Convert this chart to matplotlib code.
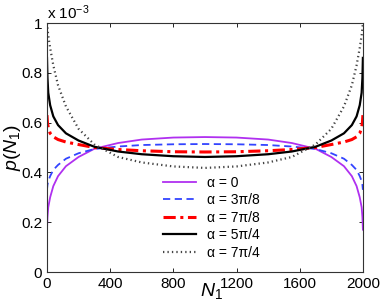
import matplotlib
matplotlib.use("Agg")
import matplotlib.pyplot as plt

plt.rcParams['font.family'] = ['Liberation Sans', 'DejaVu Sans']
plt.rcParams['mathtext.fontset'] = 'custom'
plt.rcParams['mathtext.it'] = 'Liberation Sans:italic'
plt.rcParams['mathtext.rm'] = 'Liberation Sans'

# N1 sample points and p(N1) (units of 1e-3)
n1 = [0, 3, 8, 20, 40, 70, 120, 200, 300, 450, 600, 800, 1000,
      1200, 1400, 1550, 1700, 1800, 1880, 1930, 1960, 1980, 1992, 1997, 2000]

p_a0 = [0.17, 0.22, 0.26, 0.30, 0.345, 0.385, 0.425, 0.462, 0.495, 0.518, 0.532, 0.540, 0.542,
        0.540, 0.532, 0.518, 0.495, 0.462, 0.425, 0.385, 0.345, 0.30, 0.26, 0.22, 0.17]
p_3pi8 = [0.33, 0.35, 0.365, 0.385, 0.41, 0.43, 0.455, 0.477, 0.494, 0.504, 0.510, 0.513, 0.514,
          0.513, 0.510, 0.504, 0.494, 0.477, 0.455, 0.43, 0.41, 0.385, 0.365, 0.35, 0.33]
p_7pi8 = [0.63, 0.60, 0.58, 0.557, 0.543, 0.532, 0.522, 0.512, 0.500, 0.492, 0.487, 0.483, 0.482,
          0.483, 0.487, 0.492, 0.500, 0.512, 0.522, 0.532, 0.543, 0.557, 0.58, 0.60, 0.63]
p_5pi4 = [0.86, 0.78, 0.72, 0.67, 0.625, 0.59, 0.557, 0.528, 0.503, 0.484, 0.473, 0.465, 0.462,
          0.465, 0.473, 0.484, 0.503, 0.528, 0.557, 0.59, 0.625, 0.67, 0.72, 0.78, 0.86]
p_7pi4 = [1.0, 0.98, 0.95, 0.90, 0.83, 0.75, 0.665, 0.575, 0.512, 0.462, 0.440, 0.424, 0.418,
          0.424, 0.440, 0.462, 0.512, 0.575, 0.665, 0.75, 0.83, 0.90, 0.95, 0.98, 1.0]

labels = ['α = 0', 'α = 3π/8', 'α = 7π/8', 'α = 5π/4', 'α = 7π/4']

fig = plt.figure(figsize=(3.82, 3.07), dpi=100)
ax = fig.add_axes([0.123, 0.114, 0.827, 0.811])

ax.plot(n1, p_a0, color='#b030f0', lw=1.3, label=labels[0])
ax.plot(n1, p_3pi8, color='#3344ff', lw=1.3, ls=(0, (4, 2.5)), label=labels[1])
ax.plot(n1, p_7pi8, color='red', lw=2.2, ls=(0, (4, 1.5, 1, 1.5)), label=labels[2])
ax.plot(n1, p_5pi4, color='black', lw=1.6, label=labels[3])
ax.plot(n1, p_7pi4, color='#444444', lw=1.6, ls=(0, (0.6, 1.4)), label=labels[4])

ax.set_xlim(0, 2000)
ax.set_ylim(0, 1)
ax.set_xticks([0, 400, 800, 1200, 1600, 2000])
ax.set_yticks([0, 0.2, 0.4, 0.6, 0.8, 1])
ax.set_yticklabels(['0', '0.2', '0.4', '0.6', '0.8', '1'])
ax.tick_params(direction='in', top=True, right=True, labelsize=11, length=3, width=0.6)
for s in ax.spines.values():
    s.set_linewidth(0.8)
    s.set_color('#333333')

ax.set_xlabel('$N_1$', fontsize=14)
ax.set_ylabel('$p(N_1)$', fontsize=14)
ax.xaxis.set_label_coords(0.52, -0.035)
ax.yaxis.set_label_coords(-0.075, 0.5)
ax.text(0.0, 1.005, r'x 10$^{\mathregular{-3}}$', transform=ax.transAxes, fontsize=11,
        ha='left', va='bottom')

ax.legend(loc='lower center', bbox_to_anchor=(0.52, 0.0), frameon=False,
          fontsize=10, handlelength=2.4, labelspacing=0.25, handletextpad=0.8)

fig.savefig('out.png', dpi=100)
